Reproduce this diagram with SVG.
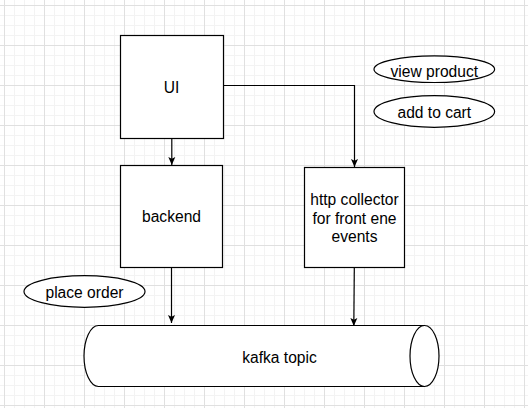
<svg xmlns="http://www.w3.org/2000/svg" width="528" height="408" viewBox="0 0 528 408">
<defs>
<pattern id="grid" x="4" y="5" width="40" height="40" patternUnits="userSpaceOnUse">
<path d="M10.5,0V40M20.5,0V40M30.5,0V40M0,10.5H40M0,20.5H40M0,30.5H40" stroke="#f3f3f3" stroke-width="1" fill="none"/>
<path d="M0.5,0V40M0,0.5H40" stroke="#e0e0e0" stroke-width="1" fill="none"/>
</pattern>
<marker id="arr" viewBox="0 0 8 8" refX="8" refY="4" markerWidth="8" markerHeight="8" markerUnits="userSpaceOnUse" orient="auto">
<path d="M0,0.5 L8,4 L0,7.5 L1.8,4 Z" fill="#000"/>
</marker>
</defs>
<style>
.box{fill:#fff;stroke:#000;stroke-width:1.2}
.lbl{font-family:"Liberation Sans",Arial,sans-serif;font-size:15.6px;fill:#000;text-anchor:middle;dominant-baseline:central}
.edge{fill:none;stroke:#000;stroke-width:1.2}
</style>
<rect x="0" y="0" width="528" height="408" fill="#fff"/>
<rect x="0" y="0" width="528" height="408" fill="url(#grid)"/>
<g id="connectors">
<path class="edge" d="M171.8,138.5V165" marker-end="url(#arr)"/>
<path class="edge" d="M223.5,85.5H354.5V167" marker-end="url(#arr)"/>
<path class="edge" d="M171.5,267.5V323" marker-end="url(#arr)"/>
<path class="edge" d="M354.3,267.5L353.8,326" marker-end="url(#arr)"/>
</g>
<g id="ui">
<rect class="box" x="120.5" y="35.5" width="103" height="103"/>
<text class="lbl" x="171.5" y="87">UI</text>
</g>
<g id="backend">
<rect class="box" x="120.5" y="165.5" width="102" height="102"/>
<text class="lbl" x="171.5" y="216">backend</text>
</g>
<g id="http-collector">
<rect class="box" x="304.5" y="167.5" width="100" height="100"/>
<text class="lbl" x="354.5" y="199.5">http collector</text>
<text class="lbl" x="354.5" y="218">for front ene</text>
<text class="lbl" x="354.5" y="236.5">events</text>
</g>
<g id="view-product">
<ellipse class="box" cx="434.3" cy="69.2" rx="60.3" ry="13.3"/>
<text class="lbl" x="434.3" y="71">view product</text>
</g>
<g id="add-to-cart">
<ellipse class="box" cx="434.3" cy="111.5" rx="60.3" ry="15.8"/>
<text class="lbl" x="434.3" y="112">add to cart</text>
</g>
<g id="place-order">
<ellipse class="box" cx="84.5" cy="291.5" rx="60.5" ry="15.8"/>
<text class="lbl" x="84.5" y="292">place order</text>
</g>
<g id="kafka-topic">
<path class="box" d="M98.5,325.5H424.5A14.5,30.5 0 0 1 424.5,386.5H98.5A14.5,30.5 0 0 1 98.5,325.5Z"/>
<path class="edge" d="M424.5,325.5A14.5,30.5 0 0 0 424.5,386.5"/>
<text class="lbl" x="279.5" y="357">kafka topic</text>
</g>
</svg>
